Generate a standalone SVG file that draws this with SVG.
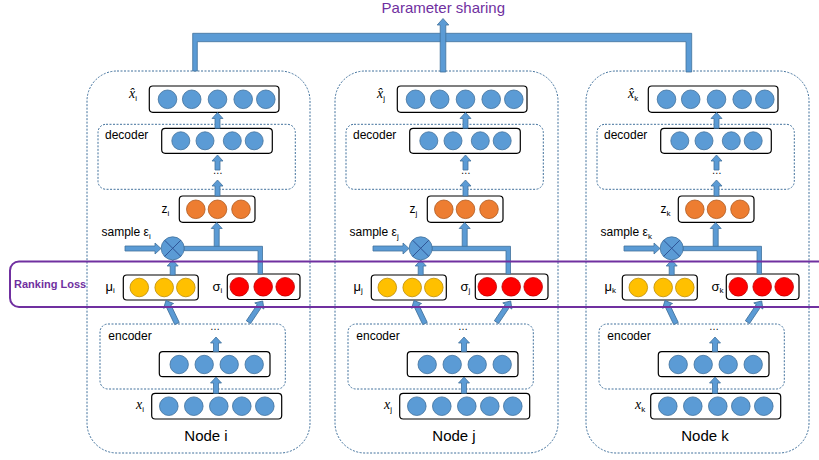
<svg xmlns="http://www.w3.org/2000/svg" width="819" height="460" viewBox="0 0 819 460">
<style>
.outer{fill:none;stroke:#41719C;stroke-width:1;stroke-dasharray:2 1.5}
.dash{fill:none;stroke:#41719C;stroke-width:1;stroke-dasharray:2 1.5}
.box{fill:#fff;stroke:#000;stroke-width:1.2}
.b{fill:#5B9BD5;stroke:#41719C;stroke-width:0.8}
.o{fill:#ED7D31;stroke:#AE5A21;stroke-width:0.8}
.y{fill:#FFC000;stroke:#BC8C00;stroke-width:0.8}
.r{fill:#FF0000;stroke:#BE0000;stroke-width:0.8}
.arr{fill:#5B9BD5;stroke:#41719C;stroke-width:0.8}
.x{stroke:#2F5597;stroke-width:1;fill:none}
.t{font-family:"Liberation Sans",Arial,sans-serif;font-size:12px;fill:#000}
.g{font-family:"Liberation Sans",Arial,sans-serif;font-size:13px;fill:#000}
.m{font-family:"Liberation Serif","Times New Roman",serif;font-style:italic;font-size:14px;fill:#000}
.sub{font-family:"Liberation Sans",Arial,sans-serif;font-style:normal;font-size:8px}
.nd{font-family:"Liberation Sans",Arial,sans-serif;font-size:15px;text-anchor:middle;fill:#000}
.dots{font-family:"Liberation Sans",Arial,sans-serif;font-size:10px;text-anchor:middle;fill:#000}
.purple{fill:#7030A0}
</style>
<defs>
<path id="da" d="M0,0 L5.5,6 L2.5,6 L2.5,25.5 L-2.5,25.5 L-2.5,6 L-5.5,6 Z"/>
<g id="layers">
<rect class="outer" x="87" y="71" width="223" height="382" rx="30"/>
<rect class="dash" x="98" y="124.3" width="197.3" height="65" rx="8"/>
<rect class="dash" x="100" y="324" width="185.3" height="65" rx="8"/>
<rect class="box" x="149.3" y="86" width="129.7" height="26.3" rx="3.5"/>
<circle class="b" cx="167.5" cy="99.3" r="9.3"/><circle class="b" cx="191.7" cy="99.3" r="9.3"/><circle class="b" cx="217.5" cy="99.3" r="9.3"/><circle class="b" cx="243.2" cy="99.3" r="9.3"/><circle class="b" cx="265.8" cy="99.3" r="9.3"/>
<rect class="box" x="161.7" y="128.3" width="110.6" height="25" rx="3.5"/>
<circle class="b" cx="180.8" cy="140.8" r="9"/><circle class="b" cx="205" cy="140.8" r="9"/><circle class="b" cx="232.3" cy="140.8" r="9"/><circle class="b" cx="254.2" cy="140.8" r="9"/>
<rect class="box" x="179.3" y="196" width="75.7" height="26.3" rx="3.5"/>
<circle class="o" cx="195.8" cy="209.3" r="9.3"/><circle class="o" cx="217.5" cy="209.3" r="9.3"/><circle class="o" cx="241" cy="209.3" r="9.3"/>
<rect class="box" x="123.3" y="275" width="75" height="25" rx="3.5"/>
<circle class="y" cx="139.3" cy="287.5" r="9.3"/><circle class="y" cx="164.2" cy="287.5" r="9.3"/><circle class="y" cx="185.8" cy="287.5" r="9.3"/>
<rect class="box" x="227.3" y="274" width="72.7" height="25.5" rx="3.5"/>
<circle class="r" cx="239.3" cy="286.8" r="9.3"/><circle class="r" cx="263.2" cy="286.8" r="9.3"/><circle class="r" cx="285.2" cy="286.8" r="9.3"/>
<rect class="box" x="159.3" y="351.7" width="110.7" height="25" rx="3.5"/>
<circle class="b" cx="179.2" cy="364.5" r="9.2"/><circle class="b" cx="204.2" cy="364.5" r="9.2"/><circle class="b" cx="229.2" cy="364.5" r="9.2"/><circle class="b" cx="254.2" cy="364.5" r="9.2"/>
<rect class="box" x="151.7" y="393.3" width="130" height="25.7" rx="3.5"/>
<circle class="b" cx="168.8" cy="406.2" r="9.3"/><circle class="b" cx="193.8" cy="406.2" r="9.3"/><circle class="b" cx="218.8" cy="406.2" r="9.3"/><circle class="b" cx="241.8" cy="406.2" r="9.3"/><circle class="b" cx="264.8" cy="406.2" r="9.3"/>
<text class="t" x="105" y="139">decoder</text>
<text class="t" x="108.3" y="340">encoder</text>
<text class="dots" x="217.7" y="174">…</text>
<text class="dots" x="215" y="330">…</text>
</g>
<g id="arrows">
<path class="arr" d="M217.5,112.5 L223,118.5 L220,118.5 L220,128.3 L215,128.3 L215,118.5 L212,118.5 Z"/>
<path class="arr" d="M217.5,155 L223,161 L220,161 L220,170 L215,170 L215,161 L212,161 Z"/>
<path class="arr" d="M217.5,180 L223,186 L220,186 L220,196 L215,196 L215,186 L212,186 Z"/>
<path class="arr" d="M216.7,222.5 L222.2,228.5 L219.2,228.5 L219.2,247 L214.2,247 L214.2,228.5 L211.2,228.5 Z"/>
<path class="arr" d="M184,246.3 L262.5,246.3 L262.5,274 L258,274 L258,250.7 L184,250.7 Z"/>
<path class="arr" d="M172.7,260 L178.2,266 L175.2,266 L175.2,275 L170.2,275 L170.2,266 L167.2,266 Z"/>
<path class="arr" d="M161,248.5 L155,243 L155,246 L125,246 L125,251 L155,251 L155,254 Z"/>
<circle class="b" cx="172.7" cy="248.3" r="11.5"/>
<path class="x" d="M164.6,240.2 L180.8,256.4 M180.8,240.2 L164.6,256.4"/>
<use href="#da" class="arr" transform="translate(166,300.5) rotate(-25.5)"/>
<use href="#da" class="arr" transform="translate(262.7,301) rotate(34)"/>
<path class="arr" d="M216,337 L221.5,343 L218.5,343 L218.5,351.7 L213.5,351.7 L213.5,343 L210.5,343 Z"/>
<path class="arr" d="M216,377 L221.5,383 L218.5,383 L218.5,393.3 L213.5,393.3 L213.5,383 L210.5,383 Z"/>
</g>
</defs>

<g id="node-i">
<use href="#layers"/>
<g id="conn-i"><use href="#arrows"/></g>
<text class="m" x="129" y="97.5">x̂<tspan class="sub" dy="3">i</tspan></text>
<text class="t" x="161.5" y="213">z<tspan class="sub" dy="3">i</tspan></text>
<text class="t" x="101.5" y="236">sample ε<tspan class="sub" dy="3">i</tspan></text>
<text class="g" x="105.5" y="291">μ<tspan class="sub" dy="2">i</tspan></text>
<text class="g" x="212.5" y="291">σ<tspan class="sub" dy="2">i</tspan></text>
<text class="m" x="136" y="408.5">x<tspan class="sub" dy="3">i</tspan></text>
<text class="nd" x="206" y="440.5">Node i</text>
</g>

<g id="node-j" transform="translate(248,0)">
<use href="#layers"/>
<g id="conn-j"><use href="#arrows"/></g>
<text class="m" x="129" y="97.5">x̂<tspan class="sub" dy="3">j</tspan></text>
<text class="t" x="161.5" y="213">z<tspan class="sub" dy="3">j</tspan></text>
<text class="t" x="101.5" y="236">sample ε<tspan class="sub" dy="3">j</tspan></text>
<text class="g" x="105.5" y="291">μ<tspan class="sub" dy="2">j</tspan></text>
<text class="g" x="212.5" y="291">σ<tspan class="sub" dy="2">j</tspan></text>
<text class="m" x="136" y="408.5">x<tspan class="sub" dy="3">j</tspan></text>
<text class="nd" x="206" y="440.5">Node j</text>
</g>

<g id="node-k" transform="translate(499,0)">
<use href="#layers"/>
<g id="conn-k"><use href="#arrows"/></g>
<text class="m" x="129" y="97.5">x̂<tspan class="sub" dy="3">k</tspan></text>
<text class="t" x="161.5" y="213">z<tspan class="sub" dy="3">k</tspan></text>
<text class="t" x="101.5" y="236">sample ε<tspan class="sub" dy="3">k</tspan></text>
<text class="g" x="105.5" y="291">μ<tspan class="sub" dy="2">k</tspan></text>
<text class="g" x="212.5" y="291">σ<tspan class="sub" dy="2">k</tspan></text>
<text class="m" x="136" y="408.5">x<tspan class="sub" dy="3">k</tspan></text>
<text class="nd" x="206" y="440.5">Node k</text>
</g>

<g id="connectors">
<path class="arr" d="M192.7,71 L192.7,33.3 L691.7,33.3 L691.7,72 L686,72 L686,41.7 L197.3,41.7 L197.3,71 Z"/>
<path class="arr" d="M443,18.5 L448.8,25 L445.8,25 L445.8,72 L440.2,72 L440.2,25 L437.2,25 Z"/>
</g>
<text x="443.3" y="12.5" font-family="'Liberation Sans',Arial,sans-serif" font-size="15" text-anchor="middle" class="purple">Parameter sharing</text>

<g id="ranking-loss">
<rect x="10" y="261.5" width="850" height="45.5" rx="9" fill="none" stroke="#7030A0" stroke-width="2"/>
<text x="14" y="288" font-family="'Liberation Sans',Arial,sans-serif" font-size="11" font-weight="bold" class="purple">Ranking Loss</text>
</g>
</svg>
